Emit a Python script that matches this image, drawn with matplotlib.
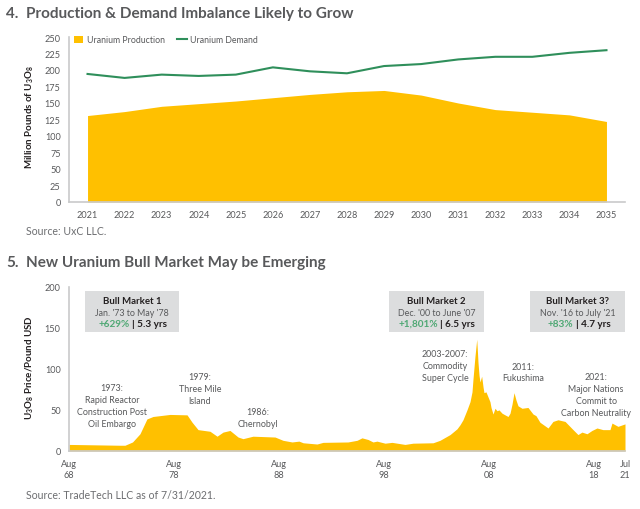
import matplotlib
matplotlib.use("Agg")
import matplotlib.pyplot as plt
from matplotlib.patches import Rectangle

plt.rcParams["font.family"] = ["Lato", "DejaVu Sans"]
plt.rcParams["mathtext.default"] = "regular"

YELLOW = "#ffc000"
GREEN = "#2f8f5b"
GREY = "#58595b"
W, H = 640, 510
SMALL = 6.6

# Chart 4
years = [2021, 2022, 2023, 2024, 2025, 2026, 2027, 2028, 2029, 2030, 2031, 2032, 2033, 2034, 2035]
production = [131, 137, 145, 149, 153, 158, 163, 167, 169, 162, 150, 140, 136, 132, 122]
demand = [194, 188, 193, 191, 193, 204, 198, 195, 206, 209, 216, 220, 220, 226, 230]

# Chart 5
price_dates = [1968.6, 1973.46, 1973.93, 1974.65, 1975.36, 1976.02, 1976.6, 1978.22, 1979.84, 1980.32,
               1980.89, 1982.03, 1982.7, 1983.27, 1983.93, 1984.7, 1985.17, 1986.12, 1988.22, 1988.98,
               1989.84, 1990.5, 1990.9, 1992.22, 1992.79, 1995.17, 1996.03, 1996.5, 1997.08, 1997.55,
               1997.93, 1998.7, 1999.36, 2000.6, 2001.36, 2003.27, 2003.93, 2004.89, 2005.55, 2005.84,
               2006.12, 2006.5, 2006.79, 2006.98, 2007.07, 2007.26, 2007.43, 2007.5, 2007.55, 2007.65,
               2007.74, 2007.9, 2008.03, 2008.12, 2008.31, 2008.5, 2008.69, 2008.79, 2008.98, 2009.17,
               2009.36, 2009.55, 2009.84, 2010.12, 2010.41, 2010.6, 2010.79, 2010.98, 2011.17, 2011.36,
               2011.74, 2012.31, 2012.79, 2013.07, 2013.45, 2014.22, 2014.69, 2015.17, 2015.84, 2016.6,
               2017.07, 2017.45, 2017.93, 2018.4, 2018.88, 2019.45, 2020.12, 2020.31, 2020.88, 2021.55]
price = [8, 7, 7, 11, 21, 39, 42, 44.5, 44, 35,
         26, 24, 18, 23, 25, 17, 15, 18, 17, 13,
         11, 12, 10, 8.5, 10.5, 11, 13, 16, 14, 11,
         12, 9.5, 10.5, 8, 9.5, 10, 13, 20, 27, 32,
         38, 50, 60, 72, 87, 115, 136, 120, 108, 92,
         84, 91, 78, 71, 72, 66, 60, 53, 45, 52,
         49, 50, 46, 44, 42, 46, 57, 71, 62, 55,
         52, 53, 45, 43, 35, 28, 36, 38, 36, 26,
         20, 23, 21, 25, 28, 26, 26, 34, 30, 33]
tick_dates = [1968.6, 1978.6, 1988.6, 1998.6, 2008.6, 2018.6, 2021.55]
tick_names = ["Aug\n68", "Aug\n78", "Aug\n88", "Aug\n98", "Aug\n08", "Aug\n18", "Jul\n21"]

boxes = [("Bull Market 1", "Jan. '73 to May '78", "+629%", "| 5.3 yrs"),
         ("Bull Market 2", "Dec. '00 to June '07", "+1,801%", "| 6.5 yrs"),
         ("Bull Market 3?", "Nov. '16 to July '21", "+83%", "| 4.7 yrs")]
events = ["1973:\nRapid Reactor\nConstruction Post\nOil Embargo", "1979:\nThree Mile\nIsland", "1986:\nChernobyl",
          "2003-2007:\nCommodity\nSuper Cycle", "2011:\nFukushima",
          "2021:\nMajor Nations\nCommit to\nCarbon Neutrality"]


def fx(px):
    return px / W


def fy(py):
    return 1 - py / H


def style_axes(ax):
    ax.spines["top"].set_visible(False)
    ax.spines["right"].set_visible(False)
    ax.spines["left"].set_color("#c9cacb")
    ax.spines["bottom"].set_color("#c9cacb")
    ax.spines["left"].set_linewidth(1.2)
    ax.spines["bottom"].set_linewidth(1.2)
    ax.tick_params(length=0, labelsize=SMALL, labelcolor=GREY)
    ax.set_facecolor("none")


fig = plt.figure(figsize=(6.4, 5.1), dpi=100)

# top chart
ax1 = fig.add_axes([fx(69), fy(203), fx(556), (203 - 38) / H])
ax1.fill_between(years, production, 0, color=YELLOW, lw=0, label="Uranium Production")
ax1.plot(years, demand, color=GREEN, lw=1.5, label="Uranium Demand")
ax1.set_xlim(2020.5, 2035.5)
ax1.set_ylim(0, 250)
ax1.set_xticks(years)
ax1.set_yticks(range(0, 251, 25))
ax1.tick_params(axis="x", pad=6)
ax1.tick_params(axis="y", pad=6)
style_axes(ax1)
ax1.legend(loc="upper left", bbox_to_anchor=(0.005, 1.02), ncols=2, frameon=False, fontsize=6.3,
           labelcolor=GREY, handlelength=1.1, handleheight=0.9, handletextpad=0.4,
           columnspacing=1.4, borderaxespad=0, borderpad=0.2)

# bottom chart
ax2 = fig.add_axes([fx(69), fy(452), fx(556), (452 - 287.7) / H])
ax2.fill_between(price_dates, price, 0, color=YELLOW, lw=0)
ax2.set_xlim(1968.6, 2021.55)
ax2.set_ylim(0, 200)
ax2.set_xticks(tick_dates)
ax2.set_xticklabels(tick_names, linespacing=1.3)
ax2.set_yticks(range(0, 201, 50))
ax2.tick_params(axis="x", pad=6)
ax2.tick_params(axis="y", pad=6)
style_axes(ax2)

# titles and sources
for num, title, py in [("4.", "Production & Demand Imbalance Likely to Grow", 14),
                       ("5.", "New Uranium Bull Market May be Emerging", 263)]:
    fig.text(fx(6), fy(py), num, fontsize=11, fontweight="bold", color=GREY, va="center")
    fig.text(fx(25.5), fy(py), title, fontsize=11, fontweight="bold", color=GREY, va="center")
fig.text(fx(25.5), fy(232), "Source: UxC LLC.", fontsize=7.6, color="#6d6e71", va="center")
fig.text(fx(25.5), fy(496), "Source: TradeTech LLC as of 7/31/2021.", fontsize=7.6, color="#6d6e71", va="center")

# y labels
fig.text(fx(30), fy(117), "Million Pounds of U$_3$O$_8$", rotation=90, fontsize=7, fontweight="bold",
         color="#231f20", ha="center", va="center")
fig.text(fx(30), fy(368), "U$_3$O$_8$ Price/Pound USD", rotation=90, fontsize=7, fontweight="bold",
         color="#231f20", ha="center", va="center")

# bull market boxes
for (head, span, gain, length), x0, x1, split in zip(boxes, [85, 389, 530], [179, 484, 625], [130, 438.5, 573.5]):
    fig.add_artist(Rectangle((fx(x0), fy(333)), fx(x1 - x0), 41 / H, transform=fig.transFigure,
                             color="#dcddde", lw=0))
    xc = (x0 + x1) / 2
    fig.text(fx(xc), fy(301), head, fontsize=6.9, fontweight="bold", color="#231f20", ha="center", va="center")
    fig.text(fx(xc), fy(313), span, fontsize=6.4, color=GREY, ha="center", va="center")
    fig.text(fx(split), fy(324.5), gain, fontsize=7.2, fontweight="bold", color="#4fa874", ha="right", va="center")
    fig.text(fx(split + 2), fy(324.5), length, fontsize=7.2, fontweight="bold", color="#231f20", ha="left", va="center")

# event notes, centre x and first line y in pixels
for note, xc, ytop in zip(events, [112, 200, 258, 445, 523, 596], [389, 378, 413, 355, 367, 378]):
    lines = note.split("\n")
    for i, line in enumerate(lines):
        fig.text(fx(xc), fy(ytop + i * 11.7), line, fontsize=6.4, color=GREY, ha="center", va="center")

fig.savefig("out.png", dpi=100)
